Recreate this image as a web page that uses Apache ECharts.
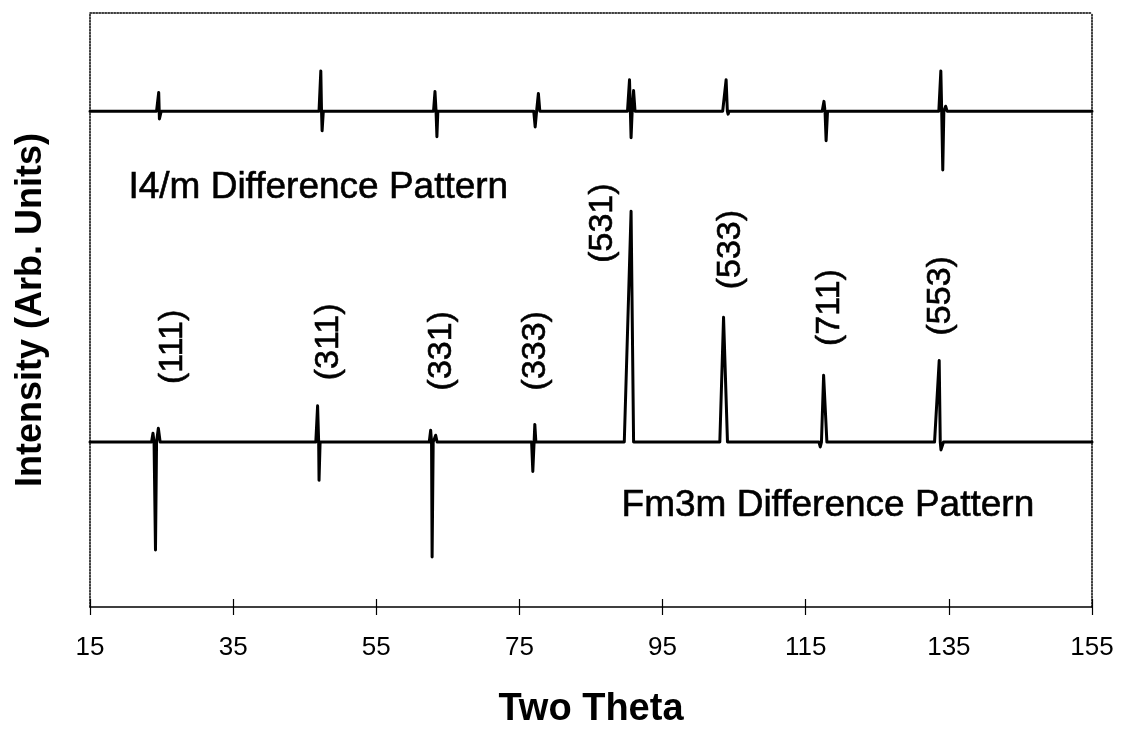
<!DOCTYPE html>
<html>
<head>
<meta charset="utf-8">
<script src="https://cdn.jsdelivr.net/npm/echarts@6/dist/echarts.min.js"></script>
<style>
  html, body { margin: 0; padding: 0; background: #fff; }
  #chart { width: 1121px; height: 734px; }
</style>
</head>
<body>
<div id="chart"></div>
<script>
// Two-theta axis ticks
const xTicks = [15, 35, 55, 75, 95, 115, 135, 155];

// Fm3m difference pattern: [two theta, intensity] (baseline = 0)
const fm3mPattern = [
  [15, 0],
  [23.6, 0], [23.8, 9], [23.95, 0], [24.15, -110], [24.3, 0], [24.55, 14], [24.8, 0],
  [46.55, 0], [46.8, 37], [46.95, 0], [47.0, -39], [47.15, 0],
  [62.4, 0], [62.6, 12], [62.72, 0], [62.8, -117], [62.95, 0], [63.3, 7], [63.5, 0],
  [76.7, 0], [76.87, -30], [77.05, 0], [77.15, 18], [77.3, 0],
  [89.65, 0], [90.6, 235], [90.95, 0],
  [103.0, 0], [103.52, 127], [104.07, 0],
  [116.85, 0], [117.03, -5], [117.2, 0], [117.5, 68], [117.96, 0],
  [133.0, 0], [133.65, 83], [133.8, 0], [133.9, -8], [134.25, 0],
  [155, 0]
];

// I4/m difference pattern: [two theta, intensity] (own baseline = 0)
const i4mPattern = [
  [15, 0],
  [24.3, 0], [24.6, 19], [24.7, -8], [24.95, 0],
  [47.0, 0], [47.25, 41], [47.35, 0], [47.43, -20], [47.6, 0],
  [63.0, 0], [63.2, 20], [63.35, 0], [63.47, -26], [63.6, 0],
  [77.0, 0], [77.2, -16], [77.4, 0], [77.65, 18], [77.85, 0],
  [90.1, 0], [90.38, 32], [90.5, 0], [90.6, -27], [90.75, 0], [90.95, 21], [91.15, 0],
  [103.4, 0], [103.88, 32], [104.05, 0], [104.15, -3], [104.3, 0],
  [117.3, 0], [117.55, 10], [117.7, 0], [117.85, -30], [118.05, 0],
  [133.6, 0], [133.88, 41], [134.0, 0], [134.15, -60], [134.3, 0], [134.55, 5], [134.75, 0],
  [155, 0]
];

// Vertical offset that stacks the I4/m trace above the Fm3m trace
const i4mOffset = 337;

// Reflection indices labelled on the Fm3m trace
const hklNames = ['(111)', '(311)', '(331)', '(333)', '(531)', '(533)', '(711)', '(553)'];

// Label anchor points [two theta, intensity] for the reflection labels
const hklAnchors = [
  [26.48, 97], [48.31, 102], [64.19, 93], [77.22, 93],
  [86.58, 223], [104.45, 196], [118.28, 137], [133.78, 149]
];

// Pattern captions and their anchors
const captionNames = ['I4/m Difference Pattern', 'Fm3m Difference Pattern'];
const captionAnchors = [[46.9, 259], [118.1, -65]];

const FONT = "'Liberation Sans', Arial, Helvetica, sans-serif";

const chart = echarts.init(document.getElementById('chart'), null, { renderer: 'canvas' });

const i4mShifted = i4mPattern.map(p => [p[0], p[1] + i4mOffset]);

const dottedFrame = { show: true, lineStyle: { color: '#000', width: 1.5, type: 'dotted' } };

// Shared look of the text drawn inside the plot
const plotText = {
  color: '#000', fontFamily: FONT, opacity: 1,
  textBorderColor: '#000', textBorderWidth: 0.6
};

chart.setOption({
  backgroundColor: '#fff',
  animation: false,
  grid: { left: 90, right: 29, top: 13, bottom: 116, containLabel: false },
  xAxis: [
    {
      type: 'value', position: 'bottom', min: xTicks[0], max: xTicks[xTicks.length - 1], interval: 20,
      axisLine: { show: true, onZero: false, lineStyle: { color: '#000', width: 1.5 } },
      axisTick: { show: true, inside: false, length: 8, lineStyle: { color: '#000', width: 1.2 } },
      axisLabel: { show: true, margin: 28, color: '#000', fontSize: 26, fontFamily: FONT },
      splitLine: { show: false },
      name: 'Two Theta', nameLocation: 'middle', nameGap: 84,
      nameTextStyle: { color: '#000', fontSize: 38, fontWeight: 'bold', fontFamily: FONT }
    },
    {
      type: 'value', position: 'bottom', min: xTicks[0], max: xTicks[xTicks.length - 1], interval: 20,
      axisLine: { show: false, onZero: false },
      axisTick: { show: true, inside: true, length: 8, lineStyle: { color: '#000', width: 1.2 } },
      axisLabel: { show: false }, splitLine: { show: false }
    },
    {
      type: 'value', position: 'top', min: xTicks[0], max: xTicks[xTicks.length - 1],
      axisLine: Object.assign({ onZero: false }, dottedFrame),
      axisTick: { show: false }, axisLabel: { show: false }, splitLine: { show: false }
    }
  ],
  yAxis: [
    {
      type: 'value', position: 'left', min: -168, max: 437,
      axisLine: Object.assign({ onZero: false }, dottedFrame),
      axisTick: { show: false }, axisLabel: { show: false }, splitLine: { show: false },
      name: 'Intensity (Arb. Units)', nameLocation: 'middle', nameGap: 41,
      nameTextStyle: { color: '#000', fontSize: 36, fontWeight: 'bold', fontFamily: FONT }
    },
    {
      type: 'value', position: 'right', min: -168, max: 437,
      axisLine: Object.assign({ onZero: false }, dottedFrame),
      axisTick: { show: false }, axisLabel: { show: false }, splitLine: { show: false }
    }
  ],
  series: [
    {
      name: 'Fm3m', type: 'line', data: fm3mPattern, showSymbol: false, symbol: 'none',
      lineStyle: { color: '#000', width: 3, join: 'round', cap: 'round' }
    },
    {
      name: 'I4/m', type: 'line', data: i4mShifted, showSymbol: false, symbol: 'none',
      lineStyle: { color: '#000', width: 3, join: 'round', cap: 'round' }
    },
    {
      name: 'hkl', type: 'scatter', symbolSize: 0, silent: true,
      itemStyle: { opacity: 1 },
      data: hklAnchors.map((p, i) => ({ value: p, name: hklNames[i] })),
      label: Object.assign({
        show: true, position: 'inside', rotate: 90, formatter: '{b}', fontSize: 34
      }, plotText)
    },
    {
      name: 'captions', type: 'scatter', symbolSize: 0, silent: true,
      itemStyle: { opacity: 1 },
      data: captionAnchors.map((p, i) => ({ value: p, name: captionNames[i] })),
      label: Object.assign({
        show: true, position: 'inside', formatter: '{b}', fontSize: 37
      }, plotText)
    }
  ]
});
</script>
</body>
</html>
